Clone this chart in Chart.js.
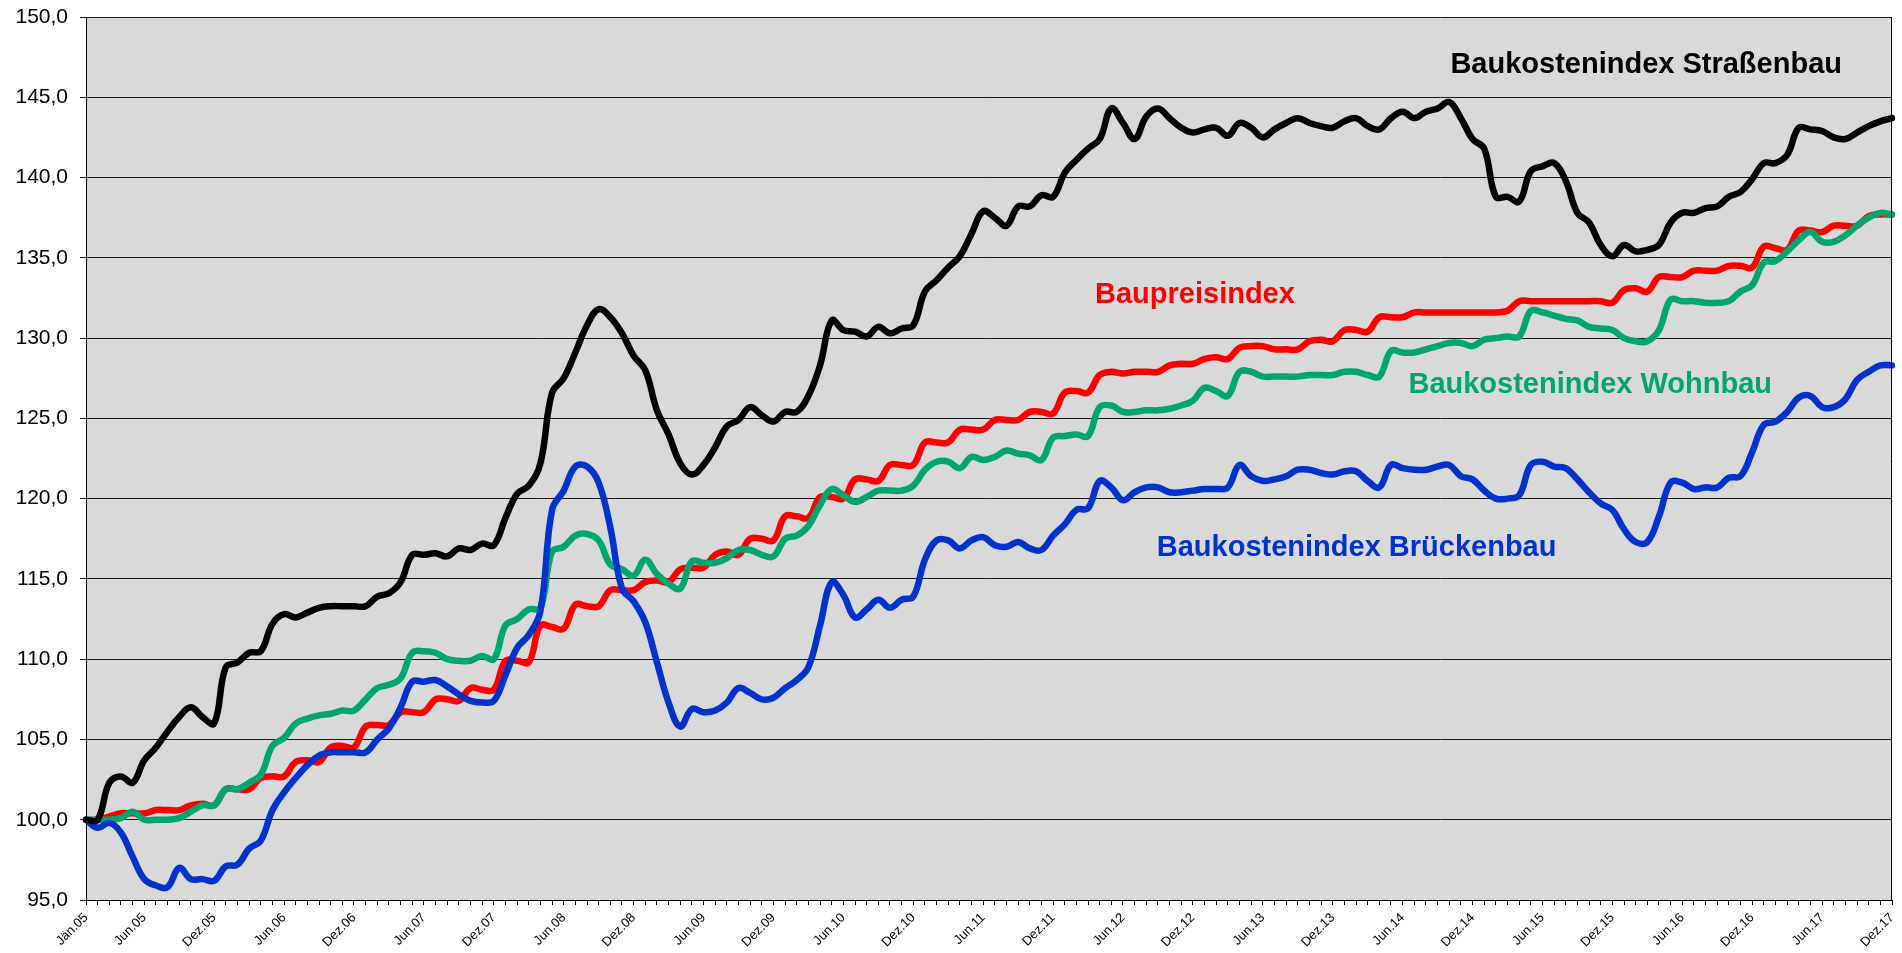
<!DOCTYPE html>
<html>
<head>
<meta charset="utf-8">
<script src="https://cdn.jsdelivr.net/npm/chart.js@4.4.1/dist/chart.umd.min.js"></script>
<style>
html,body{margin:0;padding:0;background:#ffffff;}
#wrap{width:1902px;height:953px;position:relative;}
canvas{display:block;}
</style>
</head>
<body>
<div id="wrap"><canvas id="c" width="1902" height="953"></canvas></div>
<script>
// ---- data ----
const monthNames = ["Jän","Feb","Mär","Apr","Mai","Jun","Jul","Aug","Sep","Okt","Nov","Dez"];
const years = ["05","06","07","08","09","10","11","12","13","14","15","16","17"];
const categories = [];
years.forEach(y => monthNames.forEach(m => categories.push(m + "." + y)));

const tickLabels = ["Jän.05","Jun.05","Dez.05","Jun.06","Dez.06","Jun.07","Dez.07","Jun.08","Dez.08",
  "Jun.09","Dez.09","Jun.10","Dez.10","Jun.11","Dez.11","Jun.12","Dez.12","Jun.13","Dez.13",
  "Jun.14","Dez.14","Jun.15","Dez.15","Jun.16","Dez.16","Jun.17","Dez.17"];

const yTicks = [95,100,105,110,115,120,125,130,135,140,145,150];

const strassenbau = [
  100.0,100.0,102.3,102.7,102.3,103.7,104.5,105.5,106.4,107.0,106.4,106.0,
  109.5,109.8,110.4,110.5,112.2,112.8,112.6,112.9,113.2,113.3,113.3,113.3,
  113.3,113.9,114.1,114.8,116.5,116.5,116.6,116.4,116.9,116.8,117.2,117.1,
  118.8,120.3,120.8,122.2,126.6,127.5,129.1,130.8,131.8,131.3,130.3,128.9,
  128.0,125.5,124.0,122.2,121.5,122.1,123.2,124.5,124.9,125.7,125.2,124.8,
  125.4,125.4,126.4,128.3,131.1,130.5,130.4,130.1,130.7,130.3,130.6,130.8,
  132.9,133.6,134.4,135.1,136.5,137.9,137.5,137.0,138.2,138.2,138.9,138.8,
  140.3,141.1,141.8,142.4,144.3,143.4,142.4,143.8,144.3,143.7,143.1,142.8,
  143.0,143.1,142.6,143.4,143.1,142.5,143.0,143.4,143.7,143.4,143.2,143.1,
  143.5,143.7,143.2,143.0,143.7,144.1,143.7,144.1,144.3,144.7,143.7,142.4,
  141.8,138.8,138.8,138.5,140.4,140.7,140.9,139.8,137.8,137.2,135.8,135.1,
  135.8,135.4,135.5,135.8,137.2,137.8,137.8,138.1,138.2,138.8,139.1,139.9,
  140.9,140.9,141.4,143.1,143.0,142.9,142.5,142.4,142.8,143.2,143.5,143.7
];

const baupreis = [
  100.0,100.0,100.2,100.4,100.4,100.4,100.6,100.6,100.6,100.9,101.0,100.9,
  101.9,101.9,101.9,102.6,102.7,102.7,103.6,103.7,103.6,104.5,104.6,104.5,
  105.8,105.9,105.9,106.7,106.7,106.7,107.5,107.5,107.4,108.2,108.1,108.1,
  109.9,109.9,109.8,112.1,112.0,111.9,113.4,113.3,113.3,114.3,114.3,114.3,
  114.8,114.9,114.8,115.6,115.7,115.7,116.5,116.7,116.5,117.5,117.5,117.4,
  118.9,118.9,118.8,120.1,120.1,120.0,121.2,121.2,121.1,122.1,122.1,122.1,
  123.5,123.5,123.5,124.3,124.3,124.3,124.9,124.9,124.9,125.4,125.4,125.3,
  126.6,126.7,126.6,127.7,127.9,127.8,127.9,127.9,127.9,128.3,128.4,128.4,
  128.7,128.8,128.7,129.4,129.5,129.5,129.3,129.3,129.3,129.8,129.9,129.8,
  130.5,130.5,130.4,131.3,131.3,131.3,131.6,131.6,131.6,131.6,131.6,131.6,
  131.6,131.6,131.7,132.3,132.3,132.3,132.3,132.3,132.3,132.3,132.3,132.2,
  133.0,133.1,132.9,133.8,133.8,133.8,134.2,134.2,134.2,134.5,134.5,134.4,
  135.7,135.6,135.5,136.7,136.7,136.6,137.0,137.0,137.0,137.6,137.7,137.7
];

const wohnbau = [
  100.0,100.0,100.0,100.1,100.5,100.0,100.0,100.0,100.1,100.5,100.9,100.9,
  101.9,101.9,102.3,102.8,104.6,105.1,106.0,106.3,106.5,106.6,106.8,106.8,
  107.5,108.2,108.4,108.8,110.4,110.5,110.4,110.0,109.9,109.9,110.2,110.0,
  112.1,112.5,113.1,113.2,116.7,117.0,117.7,117.8,117.4,115.9,115.6,115.2,
  116.2,115.3,114.7,114.4,116.1,116.0,116.0,116.3,116.8,116.8,116.5,116.4,
  117.5,117.7,118.3,119.6,120.6,120.2,119.8,120.1,120.5,120.5,120.5,120.8,
  121.8,122.3,122.3,121.9,122.6,122.4,122.6,123.0,122.8,122.7,122.4,123.8,
  123.9,124.0,123.9,125.7,125.8,125.4,125.4,125.5,125.5,125.6,125.8,126.1,
  126.9,126.7,126.4,127.9,127.9,127.6,127.6,127.6,127.6,127.7,127.7,127.7,
  127.9,127.9,127.7,127.6,129.2,129.1,129.1,129.3,129.5,129.7,129.7,129.5,
  129.9,130.0,130.1,130.1,131.7,131.6,131.4,131.2,131.1,130.7,130.6,130.5,
  130.0,129.8,129.8,130.5,132.4,132.3,132.3,132.2,132.2,132.3,132.9,133.3,
  134.7,134.8,135.4,136.1,136.6,136.0,136.0,136.4,137.0,137.5,137.8,137.7
];

const brueckenbau = [
  100.0,99.5,99.8,99.2,97.7,96.3,95.9,95.8,97.0,96.3,96.3,96.2,
  97.1,97.2,98.2,98.7,100.6,101.7,102.6,103.4,104.0,104.2,104.2,104.2,
  104.2,105.0,105.7,107.0,108.6,108.6,108.7,108.3,107.8,107.4,107.3,107.4,
  109.0,110.7,111.5,113.0,119.3,120.5,122.0,122.0,121.0,118.2,114.4,113.6,
  112.3,109.8,107.3,105.8,106.9,106.7,106.8,107.3,108.2,107.9,107.5,107.6,
  108.2,108.7,109.5,112.1,114.8,114.0,112.6,113.1,113.7,113.2,113.7,113.9,
  116.2,117.4,117.4,116.9,117.4,117.6,117.1,117.0,117.3,116.9,116.8,117.7,
  118.4,119.3,119.4,121.1,120.7,119.9,120.4,120.7,120.7,120.4,120.4,120.5,
  120.6,120.6,120.7,122.1,121.4,121.1,121.2,121.4,121.8,121.8,121.6,121.5,
  121.7,121.7,121.1,120.7,122.1,121.9,121.8,121.8,122.0,122.1,121.4,121.2,
  120.5,120.0,120.0,120.2,122.1,122.3,122.0,121.9,121.2,120.4,119.7,119.3,
  118.1,117.3,117.3,118.9,121.0,121.0,120.6,120.7,120.7,121.3,121.4,122.9,
  124.6,124.8,125.4,126.3,126.4,125.7,125.7,126.2,127.4,127.9,128.3,128.3
];

// series annotations: text, colour, anchor category index (left edge), anchor value (baseline)
const seriesNames = ["Baukostenindex Straßenbau","Baupreisindex","Baukostenindex Wohnbau","Baukostenindex Brückenbau"];
const seriesColors = ["#000000","#FF0000","#00A66E","#0033CC"];
const labelAnchorIndex = [117.1, 86.6, 113.5, 91.9];
const labelAnchorValue = [146.5, 132.2, 126.6, 116.4];

// ---- plugins ----
const plotBg = {
  id: 'plotBg',
  beforeDraw(chart) {
    const {ctx, chartArea: a} = chart;
    ctx.save();
    ctx.fillStyle = '#D9D9D9';
    ctx.fillRect(a.left, a.top, a.right - a.left, a.bottom - a.top);
    ctx.restore();
  },
  afterDatasetsDraw(chart) {
    const {ctx, chartArea: a} = chart;
    ctx.save();
    ctx.strokeStyle = '#000';
    ctx.lineWidth = 1;
    ctx.beginPath();
    ctx.moveTo(a.right - 0.5, a.top);
    ctx.lineTo(a.right - 0.5, a.bottom);
    ctx.stroke();
    ctx.restore();
  }
};

const seriesText = {
  id: 'seriesText',
  afterDatasetsDraw(chart) {
    const {ctx, scales} = chart;
    ctx.save();
    ctx.font = "bold 29px 'Liberation Sans', Arial, sans-serif";
    ctx.textAlign = 'left';
    ctx.textBaseline = 'alphabetic';
    seriesNames.forEach((t, k) => {
      const x = scales.x.getPixelForValue(labelAnchorIndex[k]);
      const y = scales.y.getPixelForValue(labelAnchorValue[k]);
      ctx.fillStyle = seriesColors[k];
      ctx.fillText(t, x, y);
    });
    ctx.restore();
  }
};

const lineDs = (label, data, color) => ({
  label, data, borderColor: color, backgroundColor: color,
  borderWidth: 6.5, pointRadius: 0, tension: 0.4, fill: false,
  borderCapStyle: 'round', borderJoinStyle: 'round'
});

new Chart(document.getElementById('c'), {
  type: 'line',
  data: {
    labels: categories,
    datasets: [
      lineDs(seriesNames[0], strassenbau, seriesColors[0]),
      lineDs(seriesNames[3], brueckenbau, seriesColors[3]),
      lineDs(seriesNames[2], wohnbau, seriesColors[2]),
      lineDs(seriesNames[1], baupreis, seriesColors[1])
    ]
  },
  options: {
    responsive: false,
    animation: false,
    devicePixelRatio: 1,
    layout: { padding: { top: 17, right: 10, left: 0, bottom: 0 } },
    plugins: { legend: { display: false }, tooltip: { enabled: false } },
    scales: {
      x: {
        offset: false,
        grid: { display: true, drawOnChartArea: false, drawTicks: true, tickLength: 5, color: '#000' },
        border: { display: true, color: '#000', width: 1 },
        ticks: {
          autoSkip: false, maxRotation: 45, minRotation: 45, padding: 5,
          color: '#000', font: { family: "'Liberation Sans', Arial, sans-serif", size: 13 },
          callback: function(v, i) { const l = categories[i]; return tickLabels.includes(l) ? l : ''; }
        },
        afterFit(s) { s.height = 53; s.paddingLeft = 0; s.paddingRight = 0; }
      },
      y: {
        min: yTicks[0], max: yTicks[yTicks.length - 1],
        afterBuildTicks(s) { s.ticks = yTicks.map(v => ({ value: v })); },
        grid: { color: '#1a1a1a', lineWidth: 1, tickLength: 6, drawTicks: true },
        border: { display: true, color: '#000', width: 1 },
        ticks: {
          padding: 12, color: '#000',
          font: { family: "'Liberation Sans', Arial, sans-serif", size: 21 },
          callback: v => v.toFixed(1).replace('.', ',')
        },
        afterFit(s) { s.width = 86; s.paddingTop = 0; s.paddingBottom = 0; }
      }
    }
  },
  plugins: [plotBg, seriesText]
});
</script>
</body>
</html>
